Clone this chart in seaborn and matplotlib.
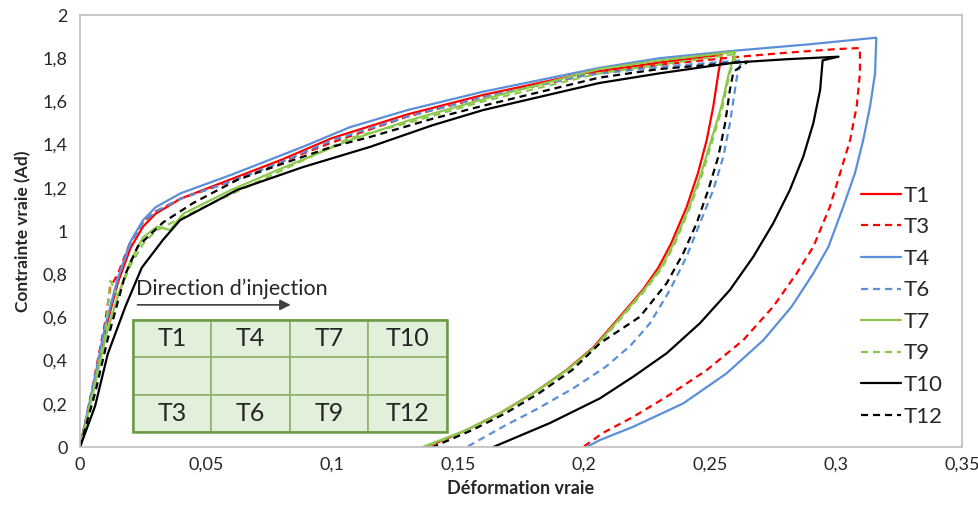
import numpy as np
import pandas as pd
import seaborn as sns
import matplotlib.pyplot as plt
from matplotlib.patches import Rectangle

# courbes contrainte / deformation (charge puis decharge)
t1_x = [0, 0.005, 0.01, 0.015, 0.02, 0.025, 0.03, 0.04, 0.06, 0.08, 0.1, 0.13, 0.16, 0.2, 0.23, 0.2546,
        0.2533, 0.2513, 0.2487, 0.2452, 0.2408, 0.2345, 0.2295, 0.2235, 0.214, 0.2036, 0.193, 0.18, 0.1667, 0.1535, 0.1377]
t1_y = [0, 0.26, 0.54, 0.76, 0.92, 1.02, 1.08, 1.15, 1.24, 1.33, 1.43, 1.54, 1.63, 1.73, 1.78, 1.815,
        1.73, 1.576, 1.421, 1.267, 1.113, 0.94, 0.83, 0.73, 0.60, 0.46, 0.356, 0.25, 0.157, 0.079, 0]

t3_x = [0, 0.005, 0.01, 0.012, 0.015, 0.02, 0.025, 0.03, 0.04, 0.06, 0.08, 0.1, 0.13, 0.16, 0.2, 0.23, 0.26, 0.28, 0.3, 0.3095,
        0.3095, 0.3082, 0.3056, 0.3016, 0.2976, 0.291, 0.2844, 0.2751, 0.2632, 0.2487, 0.2328, 0.2196, 0.2075, 0.1997]
t3_y = [0, 0.28, 0.58, 0.74, 0.80, 0.95, 1.04, 1.09, 1.15, 1.23, 1.32, 1.41, 1.53, 1.62, 1.72, 1.77, 1.805, 1.825, 1.842, 1.847,
        1.73, 1.576, 1.421, 1.267, 1.113, 0.927, 0.804, 0.65, 0.495, 0.356, 0.233, 0.140, 0.065, 0]

t4_x = [0, 0.005, 0.01, 0.015, 0.02, 0.025, 0.03, 0.04, 0.06, 0.0885, 0.107, 0.13, 0.16, 0.206, 0.23, 0.26, 0.29, 0.316,
        0.3155, 0.3135, 0.3108, 0.3075, 0.3029, 0.297, 0.291, 0.2824, 0.2712, 0.2566, 0.2394, 0.2196, 0.2063, 0.201]
t4_y = [0, 0.27, 0.56, 0.78, 0.95, 1.05, 1.11, 1.175, 1.26, 1.39, 1.48, 1.56, 1.645, 1.755, 1.80, 1.835, 1.865, 1.895,
        1.73, 1.576, 1.421, 1.267, 1.113, 0.927, 0.804, 0.65, 0.495, 0.341, 0.202, 0.094, 0.032, 0]

t6_x = [0, 0.005, 0.01, 0.015, 0.02, 0.025, 0.03, 0.04, 0.06, 0.08, 0.1, 0.13, 0.16, 0.2, 0.23, 0.2627,
        0.261, 0.2599, 0.2579, 0.2553, 0.2513, 0.246, 0.2407, 0.2341, 0.2262, 0.2185, 0.2085, 0.1955, 0.182, 0.168, 0.1535]
t6_y = [0, 0.27, 0.56, 0.78, 0.94, 1.04, 1.09, 1.15, 1.23, 1.32, 1.42, 1.53, 1.62, 1.72, 1.76, 1.79,
        1.737, 1.653, 1.499, 1.344, 1.19, 1.036, 0.881, 0.727, 0.573, 0.47, 0.37, 0.27, 0.18, 0.095, 0]

t7_x = [0, 0.005, 0.01, 0.015, 0.02, 0.025, 0.0305, 0.0357, 0.041, 0.06, 0.08, 0.107, 0.13, 0.16, 0.206, 0.23, 0.26,
        0.2575, 0.2545, 0.2505, 0.2465, 0.2418, 0.2355, 0.2305, 0.224, 0.2145, 0.204, 0.1932, 0.18, 0.1667, 0.1535, 0.136]
t7_y = [0, 0.24, 0.50, 0.70, 0.86, 0.97, 1.02, 1.005, 1.08, 1.19, 1.29, 1.42, 1.51, 1.61, 1.75, 1.79, 1.83,
        1.73, 1.576, 1.421, 1.267, 1.113, 0.94, 0.83, 0.73, 0.60, 0.46, 0.356, 0.25, 0.157, 0.079, 0]

t9_x = [0, 0.005, 0.01, 0.012, 0.015, 0.02, 0.025, 0.03, 0.04, 0.06, 0.08, 0.107, 0.13, 0.16, 0.206, 0.23, 0.2605,
        0.2578, 0.255, 0.251, 0.247, 0.2422, 0.236, 0.231, 0.2245, 0.215, 0.2045, 0.1937, 0.1805, 0.167, 0.154, 0.137]
t9_y = [0, 0.25, 0.52, 0.77, 0.70, 0.84, 0.94, 1.0, 1.06, 1.17, 1.28, 1.43, 1.50, 1.60, 1.73, 1.77, 1.82,
        1.73, 1.576, 1.421, 1.267, 1.113, 0.94, 0.83, 0.73, 0.60, 0.46, 0.356, 0.25, 0.157, 0.079, 0]

t10_x = [0, 0.006, 0.011, 0.018, 0.0245, 0.033, 0.0397, 0.0623, 0.0885, 0.115, 0.14, 0.16, 0.206, 0.23, 0.26, 0.28, 0.301,
         0.2947, 0.2937, 0.291, 0.287, 0.2817, 0.2751, 0.2672, 0.2579, 0.246, 0.2328, 0.2196, 0.2063, 0.1865, 0.164]
t10_y = [0, 0.19, 0.43, 0.65, 0.83, 0.96, 1.05, 1.19, 1.296, 1.389, 1.49, 1.56, 1.685, 1.73, 1.78, 1.795, 1.807,
         1.79, 1.653, 1.499, 1.344, 1.19, 1.036, 0.881, 0.727, 0.573, 0.434, 0.326, 0.225, 0.111, 0]

t12_x = [0, 0.006, 0.011, 0.018, 0.023, 0.033, 0.045, 0.0623, 0.08, 0.1, 0.115, 0.14, 0.16, 0.206, 0.23, 0.265,
         0.2593, 0.2579, 0.256, 0.2533, 0.2493, 0.2447, 0.2394, 0.2328, 0.2222, 0.2063, 0.1953, 0.1823, 0.169, 0.1558, 0.140]
t12_y = [0, 0.25, 0.50, 0.80, 0.93, 1.04, 1.13, 1.236, 1.31, 1.39, 1.435, 1.52, 1.58, 1.71, 1.75, 1.784,
         1.737, 1.653, 1.499, 1.344, 1.19, 1.036, 0.897, 0.758, 0.603, 0.48, 0.356, 0.25, 0.157, 0.079, 0]

specimens = ["T1", "T3", "T4", "T6", "T7", "T9", "T10", "T12"]
curves_x = [t1_x, t3_x, t4_x, t6_x, t7_x, t9_x, t10_x, t12_x]
curves_y = [t1_y, t3_y, t4_y, t6_y, t7_y, t9_y, t10_y, t12_y]

x_ticks = [0, 0.05, 0.1, 0.15, 0.2, 0.25, 0.3, 0.35]
x_ticklabels = ["0", "0,05", "0,1", "0,15", "0,2", "0,25", "0,3", "0,35"]
y_ticks = [0, 0.2, 0.4, 0.6, 0.8, 1, 1.2, 1.4, 1.6, 1.8, 2]
y_ticklabels = ["0", "0,2", "0,4", "0,6", "0,8", "1", "1,2", "1,4", "1,6", "1,8", "2"]

# plaque : position des eprouvettes
plate_labels = [["T1", "T4", "T7", "T10"],
                ["", "", "", ""],
                ["T3", "T6", "T9", "T12"]]

colors = {"T1": "#FF0000", "T3": "#FF0000", "T4": "#5B8FD9", "T6": "#5B8FD9",
          "T7": "#8CC84B", "T9": "#8CC84B", "T10": "#000000", "T12": "#000000"}
dashed = {"T1": False, "T3": True, "T4": False, "T6": True,
          "T7": False, "T9": True, "T10": False, "T12": True}

sns.set_theme(style="white")
plt.rcParams['font.family'] = ['Lato', 'DejaVu Sans']

fig = plt.figure(figsize=(9.79, 5.05), dpi=100)
ax = fig.add_axes([80/979, 58/505, 882/979, 432/505])

for name, xs, ys in zip(specimens, curves_x, curves_y):
    df = pd.DataFrame({"strain": xs, "stress": ys})
    ls = (0, (3.2, 2.2)) if dashed[name] else "-"
    sns.lineplot(data=df, x="strain", y="stress", sort=False, estimator=None,
                 color=colors[name], linestyle=ls, linewidth=1.6, label=name, ax=ax)

ax.set_xlim(0, 0.35)
ax.set_ylim(0, 2)
ax.set_xticks(x_ticks)
ax.set_xticklabels(x_ticklabels)
ax.set_yticks(y_ticks)
ax.set_yticklabels(y_ticklabels)
ax.tick_params(length=0, labelsize=13, colors="#262626")
ax.tick_params(axis="x", pad=7)
ax.tick_params(axis="y", pad=9)
for s in ax.spines.values():
    s.set_color("#BFBFBF")
    s.set_linewidth(1.2)

ax.set_xlabel("Déformation vraie", fontsize=13, fontweight="bold", labelpad=5)
ax.set_ylabel("Contrainte vraie (Ad)", fontsize=12.5, fontweight="bold", labelpad=8)

leg = ax.legend(loc="upper left", bbox_to_anchor=(0.885, 0.605), frameon=False,
                fontsize=16, handlelength=1.8, handletextpad=0.15, labelspacing=0.52,
                borderaxespad=0, borderpad=0)

# petit schema de la plaque
x0, y0 = 0.060, 0.0347
cw, rh = 0.089, 0.0864
for r, row in enumerate(plate_labels):
    for c, lab in enumerate(row):
        yy = y0 + (2 - r) * rh
        ax.add_patch(Rectangle((x0 + c * cw, yy), cw, rh, transform=ax.transAxes,
                               facecolor="#E2EFDA", edgecolor="#8DB46A", linewidth=1.2, zorder=5))
        if lab:
            ax.text(x0 + (c + 0.5) * cw, yy + rh / 2, lab, transform=ax.transAxes,
                    ha="center", va="center", fontsize=18, zorder=6)
ax.add_patch(Rectangle((x0, y0), 4 * cw, 3 * rh, transform=ax.transAxes, fill=False,
                       edgecolor="#6A9A45", linewidth=1.8, zorder=7))

ax.text(0.064, 0.365, "Direction d\u2019injection", transform=ax.transAxes,
        ha="left", va="center", fontsize=15.5, zorder=6)
ax.annotate("", xy=(0.242, 0.329), xytext=(0.062, 0.329), xycoords="axes fraction",
            arrowprops=dict(arrowstyle="-|>", color="#404040", lw=1.2, mutation_scale=16))

fig.savefig("out.png", dpi=100)
